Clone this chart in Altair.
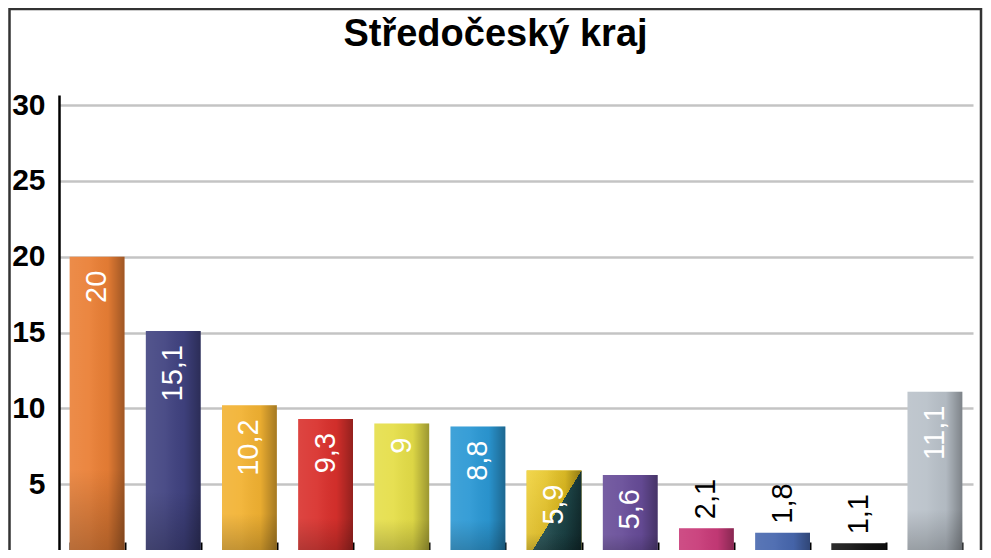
import altair as alt
import pandas as pd

title_text = "Středočeský kraj"
categories = ["A", "B", "C", "D", "E", "F", "G", "H", "I", "J", "K", "L"]
values = [20, 15.1, 10.2, 9.3, 9, 8.8, 5.9, 5.6, 2.1, 1.8, 1.1, 11.1]
colors = ["#EA7F35", "#404280", "#F2B232", "#D9302C", "#E5DE48", "#2B98D4",
          "#E2C022", "#674C98", "#C83A78", "#4767AE", "#141414", "#B9C1C9"]
y_ticks = [0, 5, 10, 15, 20, 25, 30]
split_category = "G"

df = pd.DataFrame({"cat": categories, "value": values})
df["label"] = [str(v).replace(".", ",") if v != int(v) else str(int(v)) for v in values]

FONT = "Liberation Sans"

x = alt.X("cat:N", sort=categories, title=None,
          scale=alt.Scale(paddingInner=0.28, paddingOuter=0.14),
          axis=alt.Axis(domain=False, labels=False, ticks=True, tickBand="extent",
                        tickSize=8, tickColor="black", tickWidth=2, offset=-8, grid=False))
y = alt.Y("value:Q", title=None,
          scale=alt.Scale(domain=[0.66, 30.66], nice=False, zero=False),
          axis=alt.Axis(values=y_ticks, ticks=False, domainColor="black", domainWidth=2.5,
                        grid=True, gridColor="#C4C4C4", gridWidth=2.5,
                        labelFont=FONT, labelFontSize=30, labelFontWeight="bold",
                        labelColor="black", labelPadding=14))

base = alt.Chart(df)

bars = base.mark_bar().encode(
    x=x, y=y,
    color=alt.Color("cat:N", scale=alt.Scale(domain=categories, range=colors), legend=None),
)

split = base.transform_filter(alt.datum.cat == split_category).mark_bar(
    color={"gradient": "linear", "x1": 0, "y1": 0, "x2": 1, "y2": 1,
           "stops": [{"offset": 0, "color": "#F0D23A"},
                     {"offset": 0.5, "color": "#D8B51E"},
                     {"offset": 0.5, "color": "#1F4A4D"},
                     {"offset": 1, "color": "#133033"}]}
).encode(x=x, y=y)

shade_h = base.mark_bar(
    color={"gradient": "linear", "x1": 0, "y1": 0, "x2": 1, "y2": 0,
           "stops": [{"offset": 0, "color": "rgba(255,255,255,0.10)"},
                     {"offset": 0.35, "color": "rgba(255,255,255,0.06)"},
                     {"offset": 0.7, "color": "rgba(0,0,0,0.04)"},
                     {"offset": 1, "color": "rgba(0,0,0,0.32)"}]}
).encode(x=x, y=y)

shade_v = base.mark_bar(
    color={"gradient": "linear", "x1": 0, "y1": 0, "x2": 0, "y2": 1,
           "stops": [{"offset": 0, "color": "rgba(0,0,0,0)"},
                     {"offset": 0.7, "color": "rgba(0,0,0,0)"},
                     {"offset": 1, "color": "rgba(0,0,0,0.25)"}]}
).encode(x=x, y=y)

text_in = base.transform_filter(alt.datum.value >= 5).mark_text(
    angle=270, align="right", baseline="middle", dx=-14,
    font=FONT, fontSize=29, color="white"
).encode(x=x, y=y, text="label:N")

text_out = base.transform_filter(alt.datum.value < 5).mark_text(
    angle=270, align="left", baseline="middle", dx=9,
    font=FONT, fontSize=29, color="black"
).encode(x=x, y=y, text="label:N")

single = alt.Chart(pd.DataFrame({"t": [title_text]}))

frame = single.mark_rect(
    filled=False, stroke="#333333", strokeWidth=2.5
).encode(x=alt.value(-49.5), x2=alt.value(922), y=alt.value(-86), y2=alt.value(480))

title = single.mark_text(
    font=FONT, fontSize=38, fontWeight="bold", color="black",
    align="center", baseline="alphabetic"
).encode(x=alt.value(436.5), y=alt.value(-49), text="t:N")

chart = alt.layer(bars, split, shade_h, shade_v, text_in, text_out, frame, title).properties(
    width=914, height=455,
    padding={"left": 51, "top": 87, "right": 10, "bottom": 0},
    autosize=alt.AutoSizeParams(type="none"),
).configure_view(stroke=None)

chart.save("out.html", embed_options={"renderer": "svg", "actions": False})
